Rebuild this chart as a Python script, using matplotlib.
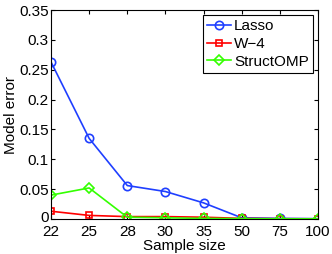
import matplotlib
matplotlib.use("Agg")
import matplotlib.pyplot as plt
import matplotlib.transforms as mtransforms
import numpy as np

plt.rcParams['font.family'] = ['Liberation Sans', 'DejaVu Sans']

sample_sizes = ['22', '25', '28', '30', '35', '50', '75', '100']
lasso = [0.263, 0.135, 0.056, 0.046, 0.027, 0.002, 0.001, 0.0005]
w4 = [0.013, 0.006, 0.004, 0.004, 0.003, 0.001, 0.0005, 0.0003]
structomp = [0.040, 0.052, 0.003, 0.002, 0.001, 0.0005, 0.0003, 0.0002]

fig = plt.figure(figsize=(3.32, 2.54), dpi=100)
ax = fig.add_axes([51/332, 1-219/254, (318-51)/332, (219-10)/254])
x = np.arange(len(sample_sizes))
ax.plot(x, lasso, color='#1f3fff', marker='o', markersize=6, mfc='none', mew=1.2, lw=1.2, label='Lasso')
ax.plot(x, w4, color='#ff0000', marker='s', markersize=5, mfc='none', mew=1.2, lw=1.2, label='W\u22124')
ax.plot(x, structomp, color='#33ff00', marker='D', markersize=5.5, mfc='none', mew=1.2, lw=1.2, label='StructOMP')
ax.set_xlim(0, len(sample_sizes)-1)
ax.set_ylim(0, 0.35)
ax.set_xticks(x)
ax.set_xticklabels(sample_sizes)
ax.set_yticks([0, 0.05, 0.1, 0.15, 0.2, 0.25, 0.3, 0.35])
ax.set_yticklabels(['0', '0.05', '0.1', '0.15', '0.2', '0.25', '0.3', '0.35'])
ax.tick_params(direction='in', top=True, right=True, labelsize=11, length=3, pad=1.5)
ax.tick_params(axis='x', pad=4)
# nudge the "0" y label up a little so it does not collide with "22"
lbl0 = ax.get_yticklabels()[0]
lbl0.set_transform(lbl0.get_transform() + mtransforms.ScaledTranslation(0, 3/100, fig.dpi_scale_trans))
ax.set_xlabel('Sample size', fontsize=11, labelpad=0)
ax.set_ylabel('Model error', fontsize=11, labelpad=1)
leg = ax.legend(loc='upper right', fontsize=11, fancybox=False, edgecolor='black',
                handlelength=1.6, handletextpad=0.2, borderpad=0.25, labelspacing=0.25,
                borderaxespad=0.35, framealpha=1)
leg.get_frame().set_linewidth(0.8)
fig.savefig('out.png', dpi=100)
